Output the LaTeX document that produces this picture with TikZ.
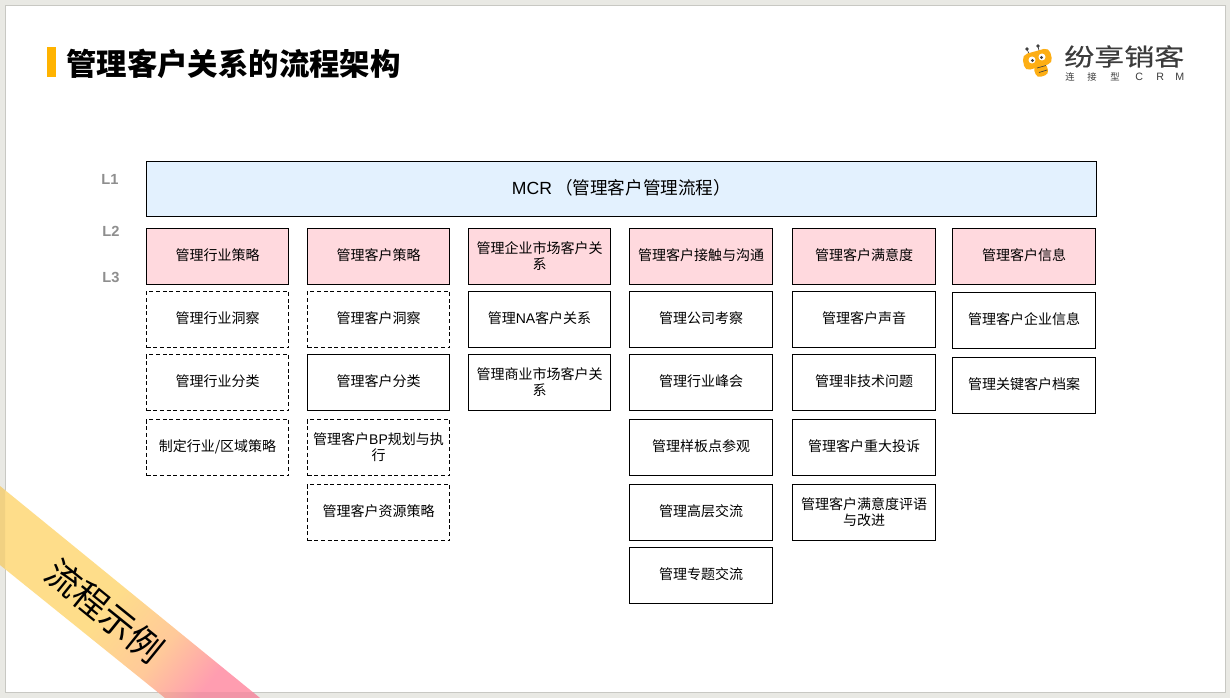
\documentclass[tikz,border=0pt]{standalone}
\usepackage{xcolor}
\usepackage{fontspec}
\setmainfont{Noto Sans CJK SC}
\newfontfamily\latinfont{Liberation Sans}
\newfontfamily\logofont[FakeStretch=1.25,FakeBold=0.2]{Noto Sans CJK SC}
\usepackage{tikz}

\definecolor{slidebg}{HTML}{E9E9E4}
\definecolor{slideedge}{HTML}{C8C8C3}
\definecolor{titlebar}{HTML}{FFB300}
\definecolor{levelgray}{HTML}{8E8E8E}
\definecolor{topblue}{HTML}{E3F1FE}
\definecolor{headpink}{HTML}{FFD9DE}
\definecolor{beeorange}{HTML}{FDAE14}
\definecolor{logotext}{HTML}{3C3C3C}
\definecolor{ribbonyellow}{HTML}{FEDD8A}
\definecolor{ribbonmid}{HTML}{FFC99A}
\definecolor{ribbonpink}{HTML}{FF9DB0}

\pgfdeclareverticalshading{ribbonshade}{100bp}{color(0bp)=(ribbonpink); color(25bp)=(ribbonpink);
  color(37bp)=(ribbonmid); color(52bp)=(ribbonyellow); color(100bp)=(ribbonyellow)}

\tikzset{
  pxbox/.style={draw=black,line width=0.75pt,minimum height=42pt,text width=101pt,minimum width=106.5pt,
    inner sep=0pt,outer sep=0pt,align=center,text depth=3pt,font=\fontsize{10.5pt}{12pt}\selectfont},
  twolines/.style={text depth=},
  headbox/.style={pxbox,fill=headpink},
  solidbox/.style={pxbox,fill=white},
  dashbox/.style={pxbox,fill=white,dash pattern=on 3pt off 2pt},
  widebox/.style={solidbox,minimum width=107.5pt,text width=103pt},
  levellabel/.style={text=levelgray,inner sep=0pt,font=\latinfont\bfseries\fontsize{11pt}{12pt}\selectfont},
  subcjk/.style={anchor=west,inner sep=0pt,text=logotext,font=\fontsize{7pt}{8pt}\selectfont},
  sublatin/.style={anchor=west,inner sep=0pt,text=logotext,font=\latinfont\fontsize{8pt}{8pt}\selectfont},
}

\begin{document}
\begin{tikzpicture}[x=0.75pt,y=-0.75pt]
\useasboundingbox (0,0) rectangle (1230,698);

% Slide
\fill[slidebg] (0,0) rectangle (1230,698);
\fill[white,draw=slideedge,line width=1.2pt] (5.5,5.5) rectangle (1225.5,692.5);

% Corner ribbon
\shade[shading=ribbonshade,shading angle=51] (0,486) -- (260,698) -- (165,698) -- (0,565) -- cycle;
\fill[black,opacity=0.05] (0,486) -- (5,490) -- (5,569) -- (0,565) -- cycle;
\fill[black,opacity=0.05] (158,692) -- (253,692) -- (260,698) -- (165,698) -- cycle;
\node[rotate=-39,inner sep=0pt,font=\fontsize{26pt}{26pt}\selectfont] (ribbon) at (105,611) {流程示例};

% Title
\fill[titlebar] (47,47) rectangle (56,77);
\node[anchor=west,inner sep=0pt,font=\bfseries\fontsize{22.8pt}{25pt}\selectfont] (title) at (66,64) {管理客户关系的流程架构};

% Logo
\fill[black!75] (1027,49) circle (1.8);
\fill[black!75] (1038,46) circle (1.8);
\draw[black!75,line width=0.5pt] (1027,49) -- (1029,54) (1038,46) -- (1039,51);
\fill[beeorange,rounded corners=4pt] (1022,55) -- (1049,47.5) -- (1053,63) -- (1025,71) -- cycle;
\fill[beeorange,rounded corners=3pt] (1033,67) -- (1046,63) -- (1049,74) -- (1037,78) -- cycle;
\fill[white] (1032,60) circle (3.5);
\fill[white] (1042,57) circle (3.5);
\fill[black!75] (1032.5,60.5) circle (1.6);
\fill[black!75] (1041.5,57.5) circle (1.6);
\draw[black!75,line width=0.5pt] (1037,68) -- (1046,65.5) (1039,72.5) -- (1047,70);
\node[anchor=west,inner sep=0pt,text=logotext,font=\logofont\fontsize{18pt}{20pt}\selectfont] (logo) at (1064,56.5) {纷享销客};
\node[subcjk] (logosuba) at (1065,76.5) {连};
\node[subcjk] (logosubb) at (1087,76.5) {接};
\node[subcjk] (logosubc) at (1110,76.5) {型};
\node[sublatin] (logosubd) at (1135,76.5) {C};
\node[sublatin] (logosube) at (1156,76.5) {R};
\node[sublatin] (logosubf) at (1175,76.5) {M};

% Level labels
\node[levellabel] (lone) at (110,179) {L1};
\node[levellabel] (ltwo) at (111,231) {L2};
\node[levellabel] (lthree) at (111,277) {L3};

% L1
\node[draw=black,fill=topblue,line width=0.75pt,inner sep=0pt,minimum width=712.5pt,minimum height=41.25pt,
  text depth=3pt,font=\fontsize{13.2pt}{14pt}\selectfont] (mcr) at (621.5,189) {{\latinfont MCR}\kern2.25pt（管理客户管理流程）};

% Column 1
\node[headbox] (inda) at (217.5,256.5) {管理行业策略};
\node[dashbox] (indb) at (217.5,319.5) {管理行业洞察};
\node[dashbox] (indc) at (217.5,382.5) {管理行业分类};
\node[dashbox] (indd) at (217.5,447.5) {制定行业/区域策略};

% Column 2
\node[headbox] (cusa) at (378.5,256.5) {管理客户策略};
\node[dashbox] (cusb) at (378.5,319.5) {管理客户洞察};
\node[solidbox] (cusc) at (378.5,382.5) {管理客户分类};
\node[dashbox,twolines] (cusd) at (378.5,447.5) {管理客户{\latinfont BP}规划与执\\行};
\node[dashbox] (cuse) at (378.5,512.5) {管理客户资源策略};

% Column 3
\node[headbox,twolines] (enta) at (539.5,256.5) {管理企业市场客户关\\系};
\node[solidbox] (entb) at (539.5,319.5) {管理{\latinfont NA}客户关系};
\node[solidbox,twolines] (entc) at (539.5,382.5) {管理商业市场客户关\\系};

% Column 4
\node[widebox,fill=headpink] (cona) at (701,256.5) {管理客户接触与沟通};
\node[widebox] (conb) at (701,319.5) {管理公司考察};
\node[widebox] (conc) at (701,382.5) {管理行业峰会};
\node[widebox] (cond) at (701,447.5) {管理样板点参观};
\node[widebox] (cone) at (701,512.5) {管理高层交流};
\node[widebox] (conf) at (701,575.5) {管理专题交流};

% Column 5
\node[widebox,fill=headpink] (sata) at (864,256.5) {管理客户满意度};
\node[widebox] (satb) at (864,319.5) {管理客户声音};
\node[widebox] (satc) at (864,382.5) {管理非技术问题};
\node[widebox] (satd) at (864,447.5) {管理客户重大投诉};
\node[widebox,twolines] (sate) at (864,512.5) {管理客户满意度评语\\与改进};

% Column 6
\node[widebox,fill=headpink] (infa) at (1024,256.5) {管理客户信息};
\node[widebox] (infb) at (1024,320.5) {管理客户企业信息};
\node[widebox] (infc) at (1024,385.5) {管理关键客户档案};
\end{tikzpicture}
\end{document}
